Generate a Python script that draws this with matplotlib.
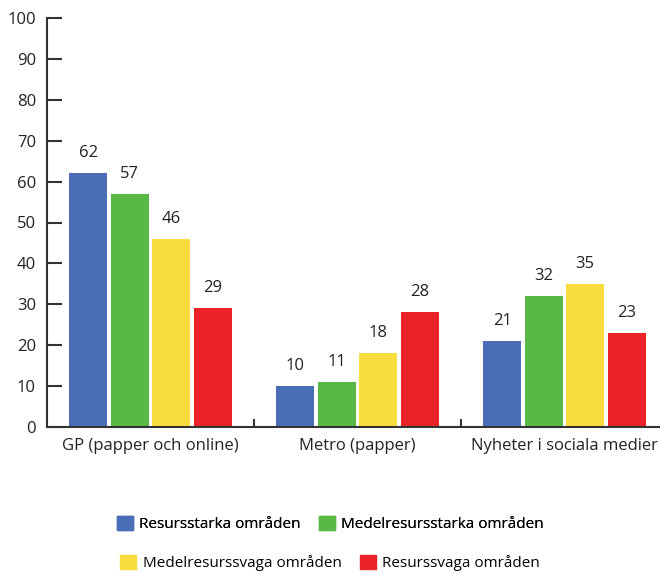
import matplotlib.pyplot as plt
import numpy as np
from matplotlib.patches import Patch

plt.rcParams['font.family'] = ['Open Sans', 'DejaVu Sans']

# data
categories = ['GP (papper och online)', 'Metro (papper)', 'Nyheter i sociala medier']
series = ['Resursstarka områden', 'Medelresursstarka områden',
          'Medelresurssvaga områden', 'Resurssvaga områden']
values = [
    [62, 10, 21],
    [57, 11, 32],
    [46, 18, 35],
    [29, 28, 23],
]
colors = ['#4a6db5', '#58b947', '#f9dc3e', '#eb2227']

fig = plt.figure(figsize=(6.6, 5.72), dpi=100)
ax = fig.add_axes([47 / 660, 145 / 572, 621 / 660, 409 / 572])

x = np.arange(len(categories))
offsets = [-0.3, -0.1, 0.1, 0.3]
for vals, off, c in zip(values, offsets, colors):
    bars = ax.bar(x + off, vals, width=0.184, color=c)
    for b, v in zip(bars, vals):
        ax.text(b.get_x() + b.get_width() / 2, v + 3, str(v),
                ha='center', va='bottom', fontsize=12, color='#222222')

ax.set_xlim(-0.5, 2.5)
ax.set_ylim(0, 100)
ax.set_yticks(range(0, 101, 10))
ax.set_xticks(x)
ax.set_xticklabels(categories, fontsize=12, color='#222222')
ax.set_xticks([0.5, 1.5], minor=True)
ax.tick_params(axis='x', which='major', length=0, pad=8)
ax.tick_params(axis='x', which='minor', direction='in', length=6, width=1.5, color='#333333')
ax.tick_params(axis='y', direction='in', length=11, width=1.5, color='#333333',
               labelsize=12, labelcolor='#222222', pad=8)
for s in ['top', 'right']:
    ax.spines[s].set_visible(False)
for s in ['left', 'bottom']:
    ax.spines[s].set_linewidth(1.5)
    ax.spines[s].set_color('#333333')

# legend in two rows
handles = [Patch(color=c, label=s) for c, s in zip(colors, series)]
leg_kw = dict(ncol=2, loc='center', frameon=False, fontsize=11, handlelength=1.05,
              handleheight=1.05, handletextpad=0.4, columnspacing=1.2)
leg1 = fig.legend(handles=handles[:2], bbox_to_anchor=(0.5, 1 - 524 / 572), **leg_kw)
leg2 = fig.legend(handles=handles[2:], bbox_to_anchor=(0.5, 1 - 563 / 572), **leg_kw)
fig.add_artist(leg1)

fig.savefig('out.png', dpi=100)
